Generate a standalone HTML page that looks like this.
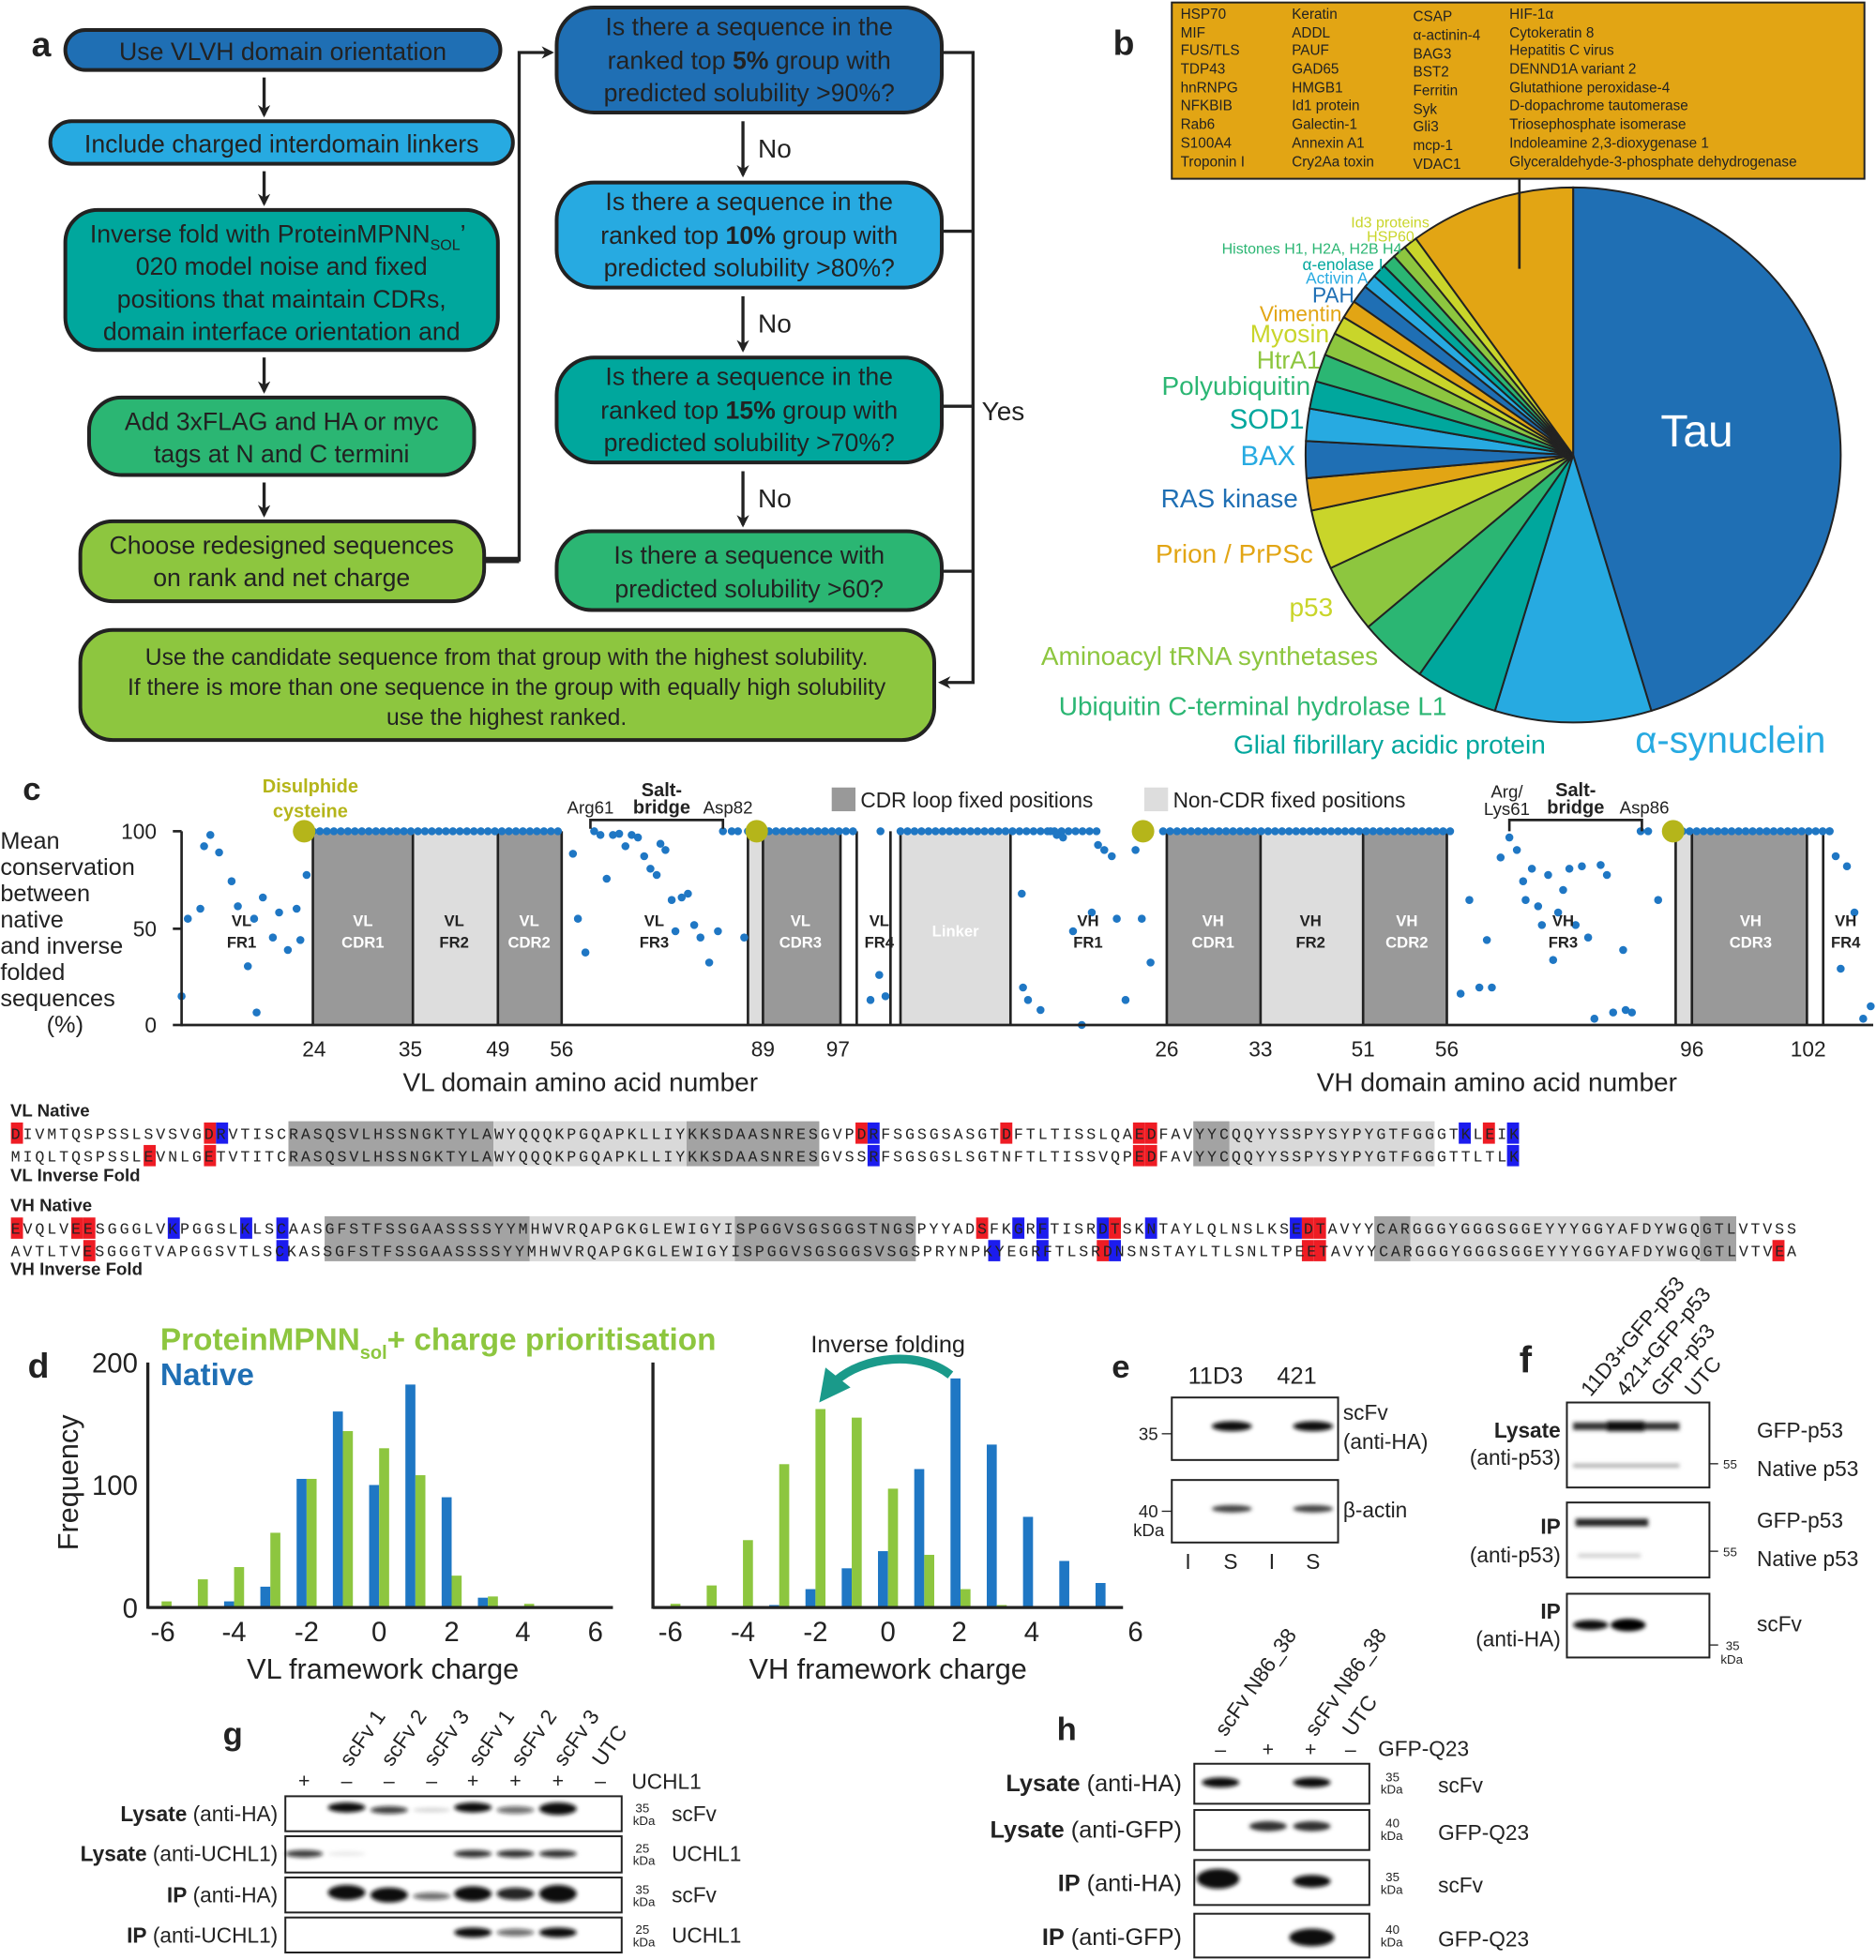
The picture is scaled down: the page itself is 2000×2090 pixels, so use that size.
<!DOCTYPE html>
<html><head><meta charset="utf-8"><style>
html,body{margin:0;padding:0;background:#fff}
svg{display:block}
text{font-family:"Liberation Sans",sans-serif;fill:#222}
.m{font-family:"Liberation Mono",monospace;font-size:12.5px}
.fc{font-size:20px;text-anchor:middle}
.b{font-weight:bold}
</style></head><body>
<svg id="s" width="2000" height="2090" viewBox="0 0 1500 1568" xmlns="http://www.w3.org/2000/svg">
<defs>
<marker id="ar" markerWidth="10" markerHeight="10" refX="8" refY="5" orient="auto" markerUnits="userSpaceOnUse"><path d="M0,0 L10,5 L0,10 L3,5 z" fill="#222"/></marker>
<filter id="bl" x="-30%" y="-100%" width="160%" height="300%"><feGaussianBlur stdDeviation="1.6"/></filter>
</defs>
<!-- PANEL A -->
<text x="25" y="45" font-size="28" class="b">a</text>
<g stroke="#222" stroke-width="3">
<rect x="52" y="24" width="348" height="32" rx="16" fill="#1f6fb4"/>
<rect x="40" y="97" width="370" height="34" rx="17" fill="#27aae1"/>
<rect x="52" y="168" width="346" height="112" rx="26" fill="#00a79d"/>
<rect x="71" y="318" width="308" height="62" rx="26" fill="#2bb673"/>
<rect x="64" y="417" width="323" height="64" rx="26" fill="#8dc63f"/>
<rect x="445" y="6" width="308" height="84" rx="30" fill="#1f6fb4"/>
<rect x="445" y="146" width="308" height="84" rx="30" fill="#27aae1"/>
<rect x="445" y="286" width="308" height="84" rx="30" fill="#00a79d"/>
<rect x="445" y="425" width="308" height="63" rx="28" fill="#2bb673"/>
<rect x="64" y="504" width="683" height="88" rx="26" fill="#8dc63f"/>
</g>
<g stroke="#222" stroke-width="2.5" fill="none">
<line x1="211" y1="62" x2="211" y2="92" marker-end="url(#ar)"/>
<line x1="211" y1="137" x2="211" y2="163" marker-end="url(#ar)"/>
<line x1="211" y1="286" x2="211" y2="313" marker-end="url(#ar)"/>
<line x1="211" y1="386" x2="211" y2="412" marker-end="url(#ar)"/>
<polyline points="387,448 415,448 415,42 441,42" marker-end="url(#ar)"/>
<line x1="594" y1="97" x2="594" y2="140" marker-end="url(#ar)"/>
<line x1="594" y1="237" x2="594" y2="280" marker-end="url(#ar)"/>
<line x1="594" y1="377" x2="594" y2="420" marker-end="url(#ar)"/>
<polyline points="753,42 778,42 778,546 752,546" marker-end="url(#ar)"/>
<line x1="753" y1="185" x2="778" y2="185"/>
<line x1="753" y1="325" x2="778" y2="325"/>
<line x1="753" y1="457" x2="778" y2="457"/>
</g>
<line x1="387" y1="448" x2="415" y2="448" stroke="#222" stroke-width="5"/>
<text class="fc" x="226" y="48">Use VLVH domain orientation</text>
<text class="fc" x="225" y="122">Include charged interdomain linkers</text>
<text class="fc" x="222" y="194">Inverse fold with ProteinMPNN<tspan font-size="12" dy="6">SOL</tspan><tspan dy="-6">’</tspan></text>
<text class="fc" x="225" y="220">020 model noise and fixed</text>
<text class="fc" x="225" y="246">positions that maintain CDRs,</text>
<text class="fc" x="225" y="272">domain interface orientation and</text>
<text class="fc" x="225" y="344">Add 3xFLAG and HA or myc</text>
<text class="fc" x="225" y="370">tags at N and C termini</text>
<text class="fc" x="225" y="443">Choose redesigned sequences</text>
<text class="fc" x="225" y="469">on rank and net charge</text>
<text class="fc" x="599" y="28">Is there a sequence in the</text>
<text class="fc" x="599" y="55">ranked top <tspan class="b">5%</tspan> group with</text>
<text class="fc" x="599" y="81">predicted solubility &gt;90%?</text>
<text class="fc" x="599" y="168">Is there a sequence in the</text>
<text class="fc" x="599" y="195">ranked top <tspan class="b">10%</tspan> group with</text>
<text class="fc" x="599" y="221">predicted solubility &gt;80%?</text>
<text class="fc" x="599" y="308">Is there a sequence in the</text>
<text class="fc" x="599" y="335">ranked top <tspan class="b">15%</tspan> group with</text>
<text class="fc" x="599" y="361">predicted solubility &gt;70%?</text>
<text class="fc" x="599" y="451">Is there a sequence with</text>
<text class="fc" x="599" y="478">predicted solubility &gt;60?</text>
<text x="606" y="126" font-size="21">No</text>
<text x="606" y="266" font-size="21">No</text>
<text x="606" y="406" font-size="21">No</text>
<text x="785" y="336" font-size="21">Yes</text>
<text x="405" y="532" font-size="18.5" text-anchor="middle">Use the candidate sequence from that group with the highest solubility.</text>
<text x="405" y="556" font-size="18.5" text-anchor="middle">If there is more than one sequence in the group with equally high solubility</text>
<text x="405" y="580" font-size="18.5" text-anchor="middle">use the highest ranked.</text>

<!-- PANEL B -->
<text x="890" y="44" font-size="28" class="b">b</text>
<rect x="937" y="2" width="554" height="141" fill="#e2a514" stroke="#222" stroke-width="1.5"/>
<g font-size="11.5">
<text x="944" y="15">HSP70</text><text x="944" y="30">MIF</text><text x="944" y="44">FUS/TLS</text><text x="944" y="59">TDP43</text><text x="944" y="74">hnRNPG</text><text x="944" y="88">NFKBIB</text><text x="944" y="103">Rab6</text><text x="944" y="118">S100A4</text><text x="944" y="133">Troponin I</text>
<text x="1033" y="15">Keratin</text><text x="1033" y="30">ADDL</text><text x="1033" y="44">PAUF</text><text x="1033" y="59">GAD65</text><text x="1033" y="74">HMGB1</text><text x="1033" y="88">Id1 protein</text><text x="1033" y="103">Galectin-1</text><text x="1033" y="118">Annexin A1</text><text x="1033" y="133">Cry2Aa toxin</text>
<text x="1130" y="17">CSAP</text><text x="1130" y="32">α-actinin-4</text><text x="1130" y="47">BAG3</text><text x="1130" y="61">BST2</text><text x="1130" y="76">Ferritin</text><text x="1130" y="91">Syk</text><text x="1130" y="105">Gli3</text><text x="1130" y="120">mcp-1</text><text x="1130" y="135">VDAC1</text>
<text x="1207" y="15">HIF-1α</text><text x="1207" y="30">Cytokeratin 8</text><text x="1207" y="44">Hepatitis C virus</text><text x="1207" y="59">DENND1A variant 2</text><text x="1207" y="74">Glutathione peroxidase-4</text><text x="1207" y="88">D-dopachrome tautomerase</text><text x="1207" y="103">Triosephosphate isomerase</text><text x="1207" y="118">Indoleamine 2,3-dioxygenase 1</text><text x="1207" y="133">Glyceraldehyde-3-phosphate dehydrogenase</text>
</g>
<g id="pie"></g>
<line x1="1215" y1="143" x2="1215" y2="215" stroke="#222" stroke-width="2"/>
<g text-anchor="end">
<text x="1143" y="182" font-size="12" style="fill:#c9d52a">Id3 proteins</text>
<text x="1131" y="193" font-size="12" style="fill:#c9d52a">HSP60</text>
<text x="1121" y="203" font-size="12" style="fill:#2bb673">Histones H1, H2A, H2B H4</text>
<text x="1106" y="216" font-size="13" style="fill:#00a79d">α-enolase I</text>
<text x="1094" y="227" font-size="13" style="fill:#27aae1">Activin A</text>
<text x="1083" y="242" font-size="17" style="fill:#1f6fb4">PAH</text>
<text x="1073" y="257" font-size="17" style="fill:#e2a514">Vimentin</text>
<text x="1063" y="274" font-size="20" style="fill:#c9d52a">Myosin</text>
<text x="1056" y="295" font-size="20" style="fill:#8dc63f">HtrA1</text>
<text x="1048" y="316" font-size="21" style="fill:#2bb673">Polyubiquitin</text>
<text x="1043" y="343" font-size="22" style="fill:#00a79d">SOD1</text>
<text x="1036" y="372" font-size="22" style="fill:#27aae1">BAX</text>
<text x="1038" y="406" font-size="21" style="fill:#1f6fb4">RAS kinase</text>
<text x="1050" y="450" font-size="21" style="fill:#e2a514">Prion / PrPSc</text>
<text x="1066" y="493" font-size="21" style="fill:#c9d52a">p53</text>
<text x="1102" y="532" font-size="21" style="fill:#8dc63f">Aminoacyl tRNA synthetases</text>
<text x="1157" y="572" font-size="21" style="fill:#2bb673">Ubiquitin C-terminal hydrolase L1</text>
<text x="1236" y="603" font-size="21" style="fill:#00a79d">Glial fibrillary acidic protein</text>
<text x="1460" y="602" font-size="30" style="fill:#27aae1">α-synuclein</text>
</g>
<text x="1357" y="357" font-size="36" text-anchor="middle" style="fill:#fff">Tau</text>

<!-- PANEL C -->
<text x="18" y="640" font-size="26" class="b">c</text>
<g id="cgray"></g>
<g id="cdots"></g>
<g stroke="#222" stroke-width="2"><line x1="145" y1="665" x2="145" y2="821"/><line x1="145" y1="820" x2="1498" y2="820"/>
<line x1="138" y1="665" x2="145" y2="665"/><line x1="138" y1="743" x2="145" y2="743"/><line x1="138" y1="820" x2="145" y2="820"/></g>
<g font-size="17" text-anchor="end"><text x="125" y="671">100</text><text x="125" y="749">50</text><text x="125" y="826">0</text></g>
<g font-size="19"><text x="0" y="679">Mean</text><text x="0" y="700">conservation</text><text x="0" y="721">between</text><text x="0" y="742">native</text><text x="0" y="763">and inverse</text><text x="0" y="784">folded</text><text x="0" y="805">sequences</text><text x="37" y="826">(%)</text></g>
<g font-size="17" text-anchor="middle"><text x="251" y="845">24</text><text x="328" y="845">35</text><text x="398" y="845">49</text><text x="449" y="845">56</text><text x="610" y="845">89</text><text x="670" y="845">97</text><text x="933" y="845">26</text><text x="1008" y="845">33</text><text x="1090" y="845">51</text><text x="1157" y="845">56</text><text x="1353" y="845">96</text><text x="1446" y="845">102</text></g>
<text x="464" y="873" font-size="21" text-anchor="middle">VL domain amino acid number</text>
<text x="1197" y="873" font-size="21" text-anchor="middle">VH domain amino acid number</text>
<text x="248" y="634" font-size="15" class="b" text-anchor="middle" style="fill:#b5b51a">Disulphide</text>
<text x="248" y="654" font-size="15" class="b" text-anchor="middle" style="fill:#b5b51a">cysteine</text>
<text x="472" y="651" font-size="14" text-anchor="middle">Arg61</text><text x="529" y="637" font-size="15" class="b" text-anchor="middle">Salt-</text><text x="529" y="651" font-size="15" class="b" text-anchor="middle">bridge</text><text x="582" y="651" font-size="14" text-anchor="middle">Asp82</text>
<path d="M472,663 V656 H578 V663" stroke="#222" stroke-width="2" fill="none"/>
<text x="1205" y="638" font-size="14" text-anchor="middle">Arg/</text><text x="1205" y="652" font-size="14" text-anchor="middle">Lys61</text><text x="1260" y="637" font-size="15" class="b" text-anchor="middle">Salt-</text><text x="1260" y="651" font-size="15" class="b" text-anchor="middle">bridge</text><text x="1315" y="651" font-size="14" text-anchor="middle">Asp86</text>
<path d="M1207,665 V656 H1313 V665" stroke="#222" stroke-width="2" fill="none"/>
<rect x="665" y="630" width="19" height="19" fill="#999"/><text x="688" y="646" font-size="17">CDR loop fixed positions</text>
<rect x="915" y="630" width="19" height="19" fill="#ddd"/><text x="938" y="646" font-size="17">Non-CDR fixed positions</text>
<g id="clab" font-size="12.5" class="b" text-anchor="middle"></g>

<!-- SEQUENCES -->
<g id="seqbg"></g>
<g font-size="14" class="b"><text x="8" y="893">VL Native</text><text x="8" y="945">VL Inverse Fold</text><text x="8" y="969">VH Native</text><text x="8" y="1020">VH Inverse Fold</text></g>
<text class="m" x="8.5" y="911" textLength="1206" lengthAdjust="spacing">DIVMTQSPSSLSVSVGDRVTISCRASQSVLHSSNGKTYLAWYQQQKPGQAPKLLIYKKSDAASNRESGVPDRFSGSGSASGTDFTLTISSLQAEDFAVYYCQQYYSSPYSYPYGTFGGGTKLEIK</text>
<text class="m" x="8.5" y="929" textLength="1206" lengthAdjust="spacing">MIQLTQSPSSLEVNLGETVTITCRASQSVLHSSNGKTYLAWYQQQKPGQAPKLLIYKKSDAASNRESGVSSRFSGSGSLSGTNFTLTISSVQPEDFAVYYCQQYYSSPYSYPYGTFGGGTTLTLK</text>
<text class="m" x="8.5" y="987" textLength="1428" lengthAdjust="spacing">EVQLVEESGGGLVKPGGSLKLSCAASGFSTFSSGAASSSSYYMHWVRQAPGKGLEWIGYISPGGVSGSGGSTNGSPYYADSFKGRFTISRDTSKNTAYLQLNSLKSEDTAVYYCARGGGYGGGSGGEYYYGGYAFDYWGQGTLVTVSS</text>
<text class="m" x="8.5" y="1005" textLength="1428" lengthAdjust="spacing">AVTLTVESGGGTVAPGGSVTLSCKASSGFSTFSSGAASSSSYYMHWVRQAPGKGLEWIGYISPGGVSGSGGSVSGSPRYNPKYEGRFTLSRDNSNSTAYLTLSNLTPEETAVYYCARGGGYGGGSGGEYYYGGYAFDYWGQGTLVTVEA</text>

<!-- PANEL D -->
<text x="22" y="1102" font-size="28" class="b">d</text>
<text x="128" y="1080" font-size="25" class="b" style="fill:#8dc63f">ProteinMPNN<tspan font-size="15" dy="7" style="fill:#8dc63f">sol</tspan><tspan dy="-7" style="fill:#8dc63f">+ charge prioritisation</tspan></text>
<text x="128" y="1108" font-size="25" class="b" style="fill:#1f6fb4">Native</text>
<g id="bars"></g>
<g stroke="#222" stroke-width="2.5"><line x1="118" y1="1090" x2="118" y2="1287"/><line x1="118" y1="1286" x2="490" y2="1286"/><line x1="522" y1="1090" x2="522" y2="1287"/><line x1="522" y1="1286" x2="898" y2="1286"/></g>
<g font-size="22" text-anchor="end"><text x="110" y="1098">200</text><text x="110" y="1196">100</text><text x="110" y="1294">0</text></g>
<g font-size="22" text-anchor="middle"><text x="130" y="1313">-6</text><text x="187" y="1313">-4</text><text x="245" y="1313">-2</text><text x="303" y="1313">0</text><text x="361" y="1313">2</text><text x="418" y="1313">4</text><text x="476" y="1313">6</text>
<text x="536" y="1313">-6</text><text x="594" y="1313">-4</text><text x="652" y="1313">-2</text><text x="710" y="1313">0</text><text x="767" y="1313">2</text><text x="825" y="1313">4</text><text x="908" y="1313">6</text></g>
<text x="306" y="1343" font-size="23" text-anchor="middle">VL framework charge</text>
<text x="710" y="1343" font-size="23" text-anchor="middle">VH framework charge</text>
<text transform="translate(62,1186) rotate(-90)" font-size="23" text-anchor="middle">Frequency</text>
<text x="710" y="1082" font-size="19" text-anchor="middle">Inverse folding</text>
<path d="M760,1100 C735,1080 690,1085 668,1105" stroke="#1a9a8a" stroke-width="7" fill="none"/>
<path d="M655,1122 L660,1094 L680,1110 z" fill="#1a9a8a"/>

<!-- PANEL E -->
<text x="889" y="1102" font-size="26" class="b">e</text>
<text x="972" y="1107" font-size="19" text-anchor="middle">11D3</text><text x="1037" y="1107" font-size="19" text-anchor="middle">421</text>
<rect x="937" y="1118" width="133" height="50" fill="#fff" stroke="#222" stroke-width="1.5"/>
<rect x="937" y="1184" width="133" height="50" fill="#fff" stroke="#222" stroke-width="1.5"/>
<g filter="url(#bl)" fill="#111"><ellipse cx="985" cy="1141" rx="16" ry="4"/><ellipse cx="1050" cy="1141" rx="16" ry="4"/><ellipse cx="985" cy="1207" rx="16" ry="3" fill="#444"/><ellipse cx="1050" cy="1207" rx="16" ry="3" fill="#444"/></g>
<g font-size="14" text-anchor="end"><text x="926" y="1152">35</text><text x="926" y="1214">40</text><text x="931" y="1229">kDa</text></g>
<line x1="929" y1="1147" x2="937" y2="1147" stroke="#222"/><line x1="929" y1="1209" x2="937" y2="1209" stroke="#222"/>
<text x="1074" y="1136" font-size="17">scFv</text><text x="1074" y="1159" font-size="17">(anti-HA)</text><text x="1074" y="1214" font-size="17">β-actin</text>
<g font-size="17" text-anchor="middle"><text x="950" y="1255">I</text><text x="984" y="1255">S</text><text x="1017" y="1255">I</text><text x="1050" y="1255">S</text></g>

<!-- PANEL F -->
<text x="1215" y="1098" font-size="30" class="b">f</text>
<g font-size="17"><text transform="translate(1272,1118) rotate(-50)">11D3+GFP-p53</text><text transform="translate(1300,1118) rotate(-50)">421+GFP-p53</text><text transform="translate(1328,1118) rotate(-50)">GFP-p53</text><text transform="translate(1355,1118) rotate(-50)">UTC</text></g>
<rect x="1253" y="1122" width="114" height="68" fill="#fff" stroke="#222" stroke-width="1.5"/>
<rect x="1253" y="1202" width="114" height="60" fill="#fff" stroke="#222" stroke-width="1.5"/>
<rect x="1253" y="1275" width="114" height="51" fill="#fff" stroke="#222" stroke-width="1.5"/>
<g filter="url(#bl)"><rect x="1258" y="1138" width="85" height="6" fill="#333"/><rect x="1285" y="1137" width="30" height="8" fill="#111"/><rect x="1258" y="1171" width="85" height="3" fill="#aaa"/>
<rect x="1260" y="1215" width="58" height="6" fill="#222"/><rect x="1262" y="1243" width="50" height="3" fill="#ccc"/>
<ellipse cx="1272" cy="1300" rx="14" ry="4" fill="#111"/><ellipse cx="1302" cy="1300" rx="14" ry="5" fill="#000"/></g>
<g font-size="17" text-anchor="end"><text x="1248" y="1150" class="b">Lysate</text><text x="1248" y="1172">(anti-p53)</text><text x="1248" y="1227" class="b">IP</text><text x="1248" y="1250">(anti-p53)</text><text x="1248" y="1295" class="b">IP</text><text x="1248" y="1317">(anti-HA)</text></g>
<g font-size="10"><text x="1378" y="1175">55</text><text x="1378" y="1245">55</text><text x="1380" y="1320">35</text><text x="1376" y="1331">kDa</text></g>
<g stroke="#222"><line x1="1367" y1="1171" x2="1374" y2="1171"/><line x1="1367" y1="1241" x2="1374" y2="1241"/><line x1="1367" y1="1316" x2="1374" y2="1316"/></g>
<g font-size="17"><text x="1405" y="1150">GFP-p53</text><text x="1405" y="1181">Native p53</text><text x="1405" y="1222">GFP-p53</text><text x="1405" y="1253">Native p53</text><text x="1405" y="1305">scFv</text></g>

<!-- PANEL G -->
<text x="178" y="1396" font-size="26" class="b">g</text>
<g font-size="17"><text transform="translate(280,1414) rotate(-55)">scFv 1</text><text transform="translate(313,1414) rotate(-55)">scFv 2</text><text transform="translate(347,1414) rotate(-55)">scFv 3</text><text transform="translate(383,1414) rotate(-55)">scFv 1</text><text transform="translate(417,1414) rotate(-55)">scFv 2</text><text transform="translate(451,1414) rotate(-55)">scFv 3</text><text transform="translate(482,1414) rotate(-55)">UTC</text></g>
<g font-size="16" text-anchor="middle"><text x="243" y="1430">+</text><text x="277" y="1430">–</text><text x="311" y="1430">–</text><text x="345" y="1430">–</text><text x="378" y="1430">+</text><text x="412" y="1430">+</text><text x="446" y="1430">+</text><text x="480" y="1430">–</text></g>
<text x="505" y="1431" font-size="17">UCHL1</text>
<g fill="#fff" stroke="#222" stroke-width="1.5"><rect x="228" y="1437" width="269" height="28"/><rect x="228" y="1469" width="269" height="29"/><rect x="228" y="1502" width="269" height="28"/><rect x="228" y="1534" width="269" height="28"/></g>
<g id="gb" filter="url(#bl)"></g>
<g font-size="17" text-anchor="end"><text x="222" y="1457"><tspan class="b">Lysate</tspan> (anti-HA)</text><text x="222" y="1489"><tspan class="b">Lysate</tspan> (anti-UCHL1)</text><text x="222" y="1522"><tspan class="b">IP</tspan> (anti-HA)</text><text x="222" y="1554"><tspan class="b">IP</tspan> (anti-UCHL1)</text></g>
<g font-size="10"><text x="508" y="1450">35</text><text x="506" y="1460">kDa</text><text x="508" y="1482">25</text><text x="506" y="1492">kDa</text><text x="508" y="1515">35</text><text x="506" y="1525">kDa</text><text x="508" y="1547">25</text><text x="506" y="1557">kDa</text></g>
<g font-size="17"><text x="537" y="1457">scFv</text><text x="537" y="1489">UCHL1</text><text x="537" y="1522">scFv</text><text x="537" y="1554">UCHL1</text></g>

<!-- PANEL H -->
<text x="845" y="1392" font-size="26" class="b">h</text>
<g font-size="17"><text transform="translate(980,1390) rotate(-55)">scFv N86_38</text><text transform="translate(1052,1390) rotate(-55)">scFv N86_38</text><text transform="translate(1082,1390) rotate(-55)">UTC</text></g>
<g font-size="16" text-anchor="middle"><text x="976" y="1405">–</text><text x="1014" y="1405">+</text><text x="1048" y="1405">+</text><text x="1080" y="1405">–</text></g>
<text x="1102" y="1405" font-size="17">GFP-Q23</text>
<g fill="#fff" stroke="#222" stroke-width="1.5"><rect x="955" y="1411" width="140" height="32"/><rect x="955" y="1448" width="140" height="32"/><rect x="955" y="1488" width="140" height="36"/><rect x="955" y="1531" width="140" height="35"/></g>
<g filter="url(#bl)" fill="#111"><ellipse cx="976" cy="1426" rx="15" ry="4"/><ellipse cx="1049" cy="1426" rx="15" ry="4"/><ellipse cx="1014" cy="1461" rx="15" ry="4" fill="#333"/><ellipse cx="1049" cy="1461" rx="15" ry="4" fill="#333"/><ellipse cx="974" cy="1503" rx="17" ry="8"/><ellipse cx="1049" cy="1505" rx="15" ry="5"/><ellipse cx="1049" cy="1550" rx="18" ry="7"/></g>
<g font-size="19" text-anchor="end"><text x="945" y="1433"><tspan class="b">Lysate</tspan> (anti-HA)</text><text x="945" y="1470"><tspan class="b">Lysate</tspan> (anti-GFP)</text><text x="945" y="1513"><tspan class="b">IP</tspan> (anti-HA)</text><text x="945" y="1556"><tspan class="b">IP</tspan> (anti-GFP)</text></g>
<g font-size="10"><text x="1108" y="1425">35</text><text x="1104" y="1435">kDa</text><text x="1108" y="1462">40</text><text x="1104" y="1472">kDa</text><text x="1108" y="1505">35</text><text x="1104" y="1515">kDa</text><text x="1108" y="1547">40</text><text x="1104" y="1557">kDa</text></g>
<g font-size="17"><text x="1150" y="1434">scFv</text><text x="1150" y="1472">GFP-Q23</text><text x="1150" y="1514">scFv</text><text x="1150" y="1557">GFP-Q23</text></g>
</svg>
<script>
(function(){
var NS="http://www.w3.org/2000/svg";
function el(p,t,a){var e=document.createElementNS(NS,t);for(var k in a)e.setAttribute(k,a[k]);document.getElementById(p).appendChild(e);return e;}
var cx=1258,cy=364,r=214;
var DB="#1f6fb4",LB="#27aae1",TE="#00a79d",GR="#2bb673",LI="#8dc63f",YE="#c9d52a",OR="#e2a514";
var sl=[[0,163,DB],[163,197,LB],[197,215,TE],[215,230,GR],[230,245,LI],[245,258,YE],[258,265,OR],[265,273,DB],[273,280,LB],[280,286,TE],[286,292,GR],[292,297,LI],[297,301,YE],[301,305,OR],[305,309,DB],[309,312,LB],[312,315,TE],[315,318,GR],[318,321,LI],[321,324,YE],[324,360,OR]];
function pt(a){a=a*Math.PI/180;return [cx+r*Math.sin(a),cy-r*Math.cos(a)];}
sl.forEach(function(s){var p1=pt(s[0]),p2=pt(s[1]);var lg=(s[1]-s[0])>180?1:0;
el("pie","path",{d:"M"+cx+","+cy+" L"+p1[0]+","+p1[1]+" A"+r+","+r+" 0 "+lg+" 1 "+p2[0]+","+p2[1]+" Z",fill:s[2],stroke:"#222","stroke-width":"1.5"});});
var dk=[[250,330],[398,449],[610,672],[933,1008],[1090,1157],[1353,1445]],lt=[[330,398],[598,610],[720,808],[1008,1090],[1340,1353]];
dk.forEach(function(a){el("cgray","rect",{x:a[0],y:665,width:a[1]-a[0],height:155,fill:"#999"});});
lt.forEach(function(a){el("cgray","rect",{x:a[0],y:665,width:a[1]-a[0],height:155,fill:"#ddd"});});
[250,330,398,449,598,610,672,685,712,720,808,933,1008,1090,1157,1340,1353,1445,1458].forEach(function(x){el("cgray","line",{x1:x,y1:665,x2:x,y2:820,stroke:"#222","stroke-width":"2"});});
var labs=[[193,"VL","FR1",0],[290,"VL","CDR1",1],[363,"VL","FR2",0],[423,"VL","CDR2",1],[523,"VL","FR3",0],[640,"VL","CDR3",1],[703,"VL","FR4",0],[1400,"VH","CDR3",1],[870,"VH","FR1",0],[970,"VH","CDR1",1],[1048,"VH","FR2",0],[1125,"VH","CDR2",1],[1250,"VH","FR3",0],[1476,"VH","FR4",0]];
labs.forEach(function(l){[l[1],l[2]].forEach(function(s,i){var t=el("clab","text",{x:l[0],y:741+i*17});t.textContent=s;if(l[3])t.setAttribute("style","fill:#fff");});});
var lk=el("clab","text",{x:764,y:749});lk.textContent="Linker";lk.setAttribute("style","fill:#fff");
var topR=[[250,449],[598,685],[720,880],[930,1165],[1340,1465]];
topR.forEach(function(a){for(var x=a[0];x<=a[1];x+=5.6)el("cdots","circle",{cx:x,cy:665,r:3.2,fill:"#1f77c4"});});
var sc=[[145,797],[150,735],[160,727],[163,677],[168,668],[175,682],[185,705],[190,725],[198,773],[203,735],[205,810],[210,718],[218,750],[223,730],[230,760],[237,727],[240,752],[245,700],[458,683],[462,735],[468,762],[475,665],[480,668],[485,703],[490,668],[495,667],[500,677],[505,668],[510,670],[515,685],[520,695],[525,700],[528,675],[532,680],[537,720],[540,745],[545,718],[550,715],[555,740],[560,750],[567,770],[574,745],[578,665],[585,665],[590,665],[595,750],[696,800],[703,780],[708,797],[704,665],[817,715],[822,800],[832,808],[818,790],[840,665],[845,668],[850,670],[858,745],[865,820],[873,730],[878,676],[883,680],[889,685],[893,735],[900,800],[908,680],[913,735],[920,770],[1168,795],[1175,720],[1183,790],[1189,752],[1193,790],[1200,686],[1207,670],[1213,680],[1218,705],[1220,720],[1225,695],[1230,725],[1233,740],[1238,700],[1242,768],[1246,730],[1250,712],[1255,695],[1260,740],[1265,693],[1270,750],[1275,815],[1280,692],[1285,700],[1290,810],[1300,808],[1305,810],[1298,760],[1312,665],[1318,665],[1326,720],[1463,665],[1468,685],[1472,775],[1477,693],[1483,730],[1490,815],[1496,805]];
sc.forEach(function(p){el("cdots","circle",{cx:p[0],cy:p[1],r:3.2,fill:"#1f77c4"});});
[[243,665],[605,665],[914,665],[1338,665]].forEach(function(p){el("cdots","circle",{cx:p[0],cy:p[1],r:9,fill:"#b5b51a"});});
var w=9.65,x0=8.5;
function bg(y,h,i0,i1,c){el("seqbg","rect",{x:x0+i0*w,y:y,width:(i1-i0)*w,height:h,fill:c});}
var D1="#a3a3a3",L1="#d9d9d9";
bg(897,36,23,40,D1);bg(897,36,40,56,L1);bg(897,36,56,67,D1);bg(897,36,98,101,D1);bg(897,36,101,118,L1);
bg(973,36,26,43,D1);bg(973,36,43,60,L1);bg(973,36,60,75,D1);bg(973,36,113,116,D1);bg(973,36,116,140,L1);bg(973,36,140,143,D1);
var R="#ee1c24",B="#1c1cee";
function hl(y,i,c,h){el("seqbg","rect",{x:x0+i*w,y:y,width:w,height:h||17,fill:c});}
[[0,R],[16,R],[17,B],[70,R],[71,B],[82,R],[93,R],[94,R],[120,B],[122,R],[124,B]].forEach(function(a){hl(898,a[0],a[1]);});
[[11,R],[16,R],[71,B],[93,R],[94,R],[124,B]].forEach(function(a){hl(916,a[0],a[1]);});
[[0,R],[5,R],[6,R],[13,B],[19,B],[22,B],[80,R],[83,B],[85,B],[90,B],[91,R],[94,B],[106,B],[107,R],[108,R]].forEach(function(a){hl(974,a[0],a[1]);});
[[6,R],[22,B],[81,B],[85,B],[90,R],[91,B],[107,R],[108,R],[146,R]].forEach(function(a){hl(992,a[0],a[1]);});
function bar(x,v,c){el("bars","rect",{x:x-4,y:1286-v*0.98,width:8,height:v*0.98,fill:c});}
var BL="#1f77c4",GN="#8dc63f";
var u=29,o=303;
[[-6,0,5],[-5,0,23],[-4,5,33],[-3,17,61],[-2,105,105],[-1,160,144],[0,100,130],[1,182,108],[2,90,26],[3,8,9],[4,0,3]].forEach(function(d){var x=o+d[0]*u;if(d[1])bar(x-4,d[1],BL);if(d[2])bar(x+4,d[2],GN);});
o=710;
[[-6,0,3],[-5,0,18],[-4,0,55],[-3,2,117],[-2,15,162],[-1,32,155],[0,46,97],[1,113,43],[2,187,15],[3,133,2],[4,74,0],[5,38,0],[6,20,0]].forEach(function(d){var x=o+d[0]*u;if(d[1])bar(x-4,d[1],BL);if(d[2])bar(x+4,d[2],GN);});
var lanes=[243,277,311,345,378,412,446,480];
function gb(y,l,op,h){el("gb","ellipse",{cx:lanes[l],cy:y,rx:15,ry:h||4,fill:"#111","fill-opacity":op});}
gb(1446,1,1);gb(1448,2,0.8,3);gb(1448,3,0.15,2);gb(1446,4,1);gb(1448,5,0.6,3);gb(1447,6,1,5);
gb(1483,0,0.8,3);gb(1483,1,0.08,2);gb(1483,4,0.85,3);gb(1483,5,0.85,3);gb(1483,6,0.85,3);
gb(1514,1,1,6);gb(1516,2,1,6);gb(1517,3,0.6,3);gb(1515,4,1,6);gb(1515,5,0.9,5);gb(1515,6,1,7);
gb(1546,4,1);gb(1546,5,0.6,3);gb(1546,6,1);
})();
</script>
</body></html>
